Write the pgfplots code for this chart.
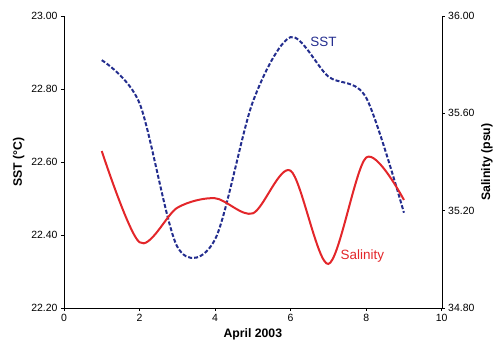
\documentclass[border=0pt]{standalone}
\usepackage{pgfplots}
\pgfplotsset{compat=1.18}
\usepackage{fontspec}
\setmainfont{Liberation Sans}
\definecolor{sstblue}{HTML}{232D8E}
\definecolor{salred}{HTML}{E3262A}
\begin{document}
\begin{tikzpicture}
\begin{axis}[
  scale only axis, width=377.7bp, height=292bp,
  xmin=0, xmax=10, ymin=22.2, ymax=23.0,
  axis x line*=bottom, axis y line*=left,
  xtick={0,2,4,6,8,10}, ytick={22.2,22.4,22.6,22.8,23.0},
  tick align=outside, major tick length=3bp,
  yticklabel style={/pgf/number format/.cd,fixed,fixed zerofill,precision=2},
  /pgf/number format/assume math mode=true,
  tick label style={font=\fontsize{10.5}{12}\selectfont},
  xlabel={\textbf{April 2003}}, ylabel={\textbf{SST (°C)}},
  label style={font=\fontsize{12.3}{14}\selectfont},
  every axis line/.style={line width=0.8bp},
  every tick/.style={line width=0.8bp, black},
  clip=false,
]
\coordinate (SW) at (rel axis cs:0,0);
\coordinate (NE) at (rel axis cs:1,1);
\addplot[sstblue, line width=2bp, dash pattern=on 4bp off 2bp, smooth] coordinates {
 (1,22.879) (2,22.761) (3,22.368) (4,22.388) (5,22.765) (6,22.942) (7,22.834) (8,22.776) (9,22.461)};
\node[anchor=west, text=sstblue, font=\fontsize{13.5}{15}\selectfont, inner sep=0pt] at (axis cs:6.52,22.929) {SST};
\end{axis}
\begin{axis}[
  scale only axis, width=377.7bp, height=292bp,
  xmin=0, xmax=10, ymin=34.8, ymax=36.0,
  axis y line*=right, axis x line=none,
  ytick={34.8,35.2,35.6,36.0},
  tick align=outside, major tick length=3bp,
  yticklabel style={/pgf/number format/.cd,fixed,fixed zerofill,precision=2},
  /pgf/number format/assume math mode=true,
  tick label style={font=\fontsize{10.5}{12}\selectfont},
  ylabel={\textbf{Salinity (psu)}},
  label style={font=\fontsize{12.3}{14}\selectfont},
  every axis line/.style={line width=0.8bp},
  every tick/.style={line width=0.8bp, black},
  clip=false,
]
\addplot[salred, line width=2bp, smooth] coordinates {
 (1,35.445) (2,35.07) (3,35.212) (4,35.251) (5,35.189) (6,35.364) (7,34.981) (8,35.418) (9,35.244)};
\node[anchor=west, text=salred, font=\fontsize{13.5}{15}\selectfont, inner sep=0pt] at (axis cs:7.32,35.014) {Salinity};
\end{axis}
\pgfresetboundingbox
\path ([shift={(-64bp,-48bp)}]SW) rectangle ([shift={(57.3bp,16bp)}]NE);
\end{tikzpicture}
\end{document}
